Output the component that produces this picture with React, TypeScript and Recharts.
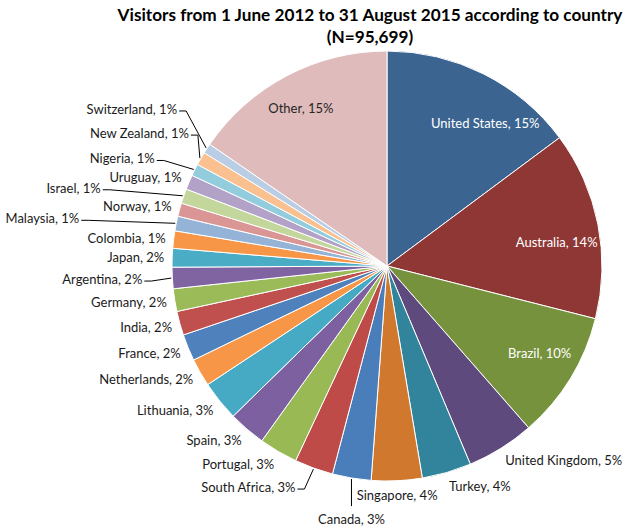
import { PieChart, Pie, Cell } from "recharts";

const countries = [
  "United States", "Australia", "Brazil", "United Kingdom", "Turkey", "Singapore",
  "Canada", "South Africa", "Portugal", "Spain", "Lithuania", "Netherlands",
  "France", "India", "Germany", "Argentina", "Japan", "Colombia", "Malaysia",
  "Norway", "Israel", "Uruguay", "Nigeria", "New Zealand", "Switzerland", "Other",
];

// share of visitors (%)
const shares = [
  14.8, 14.1, 9.6, 5.1, 3.7, 3.8, 2.9, 2.9, 2.9, 2.8, 3.0, 2.1, 2.0, 1.8, 1.7,
  1.6, 1.4, 1.3, 1.1, 1.0, 1.1, 1.1, 0.9, 1.0, 0.75, 15.4,
];

// percentages as printed on the labels
const shareLabels = [
  "15%", "14%", "10%", "5%", "4%", "4%", "3%", "3%", "3%", "3%", "3%", "2%",
  "2%", "2%", "2%", "2%", "2%", "1%", "1%", "1%", "1%", "1%", "1%", "1%", "1%", "15%",
];

const colors = [
  "#3B6491", "#8E3735", "#76923C", "#5E4A7D", "#31849B", "#D0782E",
  "#4A7EBB", "#BE4B48", "#98B954", "#7D60A0", "#46AAC5", "#F79646",
  "#4F81BD", "#C0504D", "#9BBB59", "#8064A2", "#4BACC6", "#F79646",
  "#95B3D7", "#D99694", "#C3D69B", "#B3A2C7", "#93CDDD", "#FAC090",
  "#B9CDE5", "#DFBBBB",
];

const data = countries.map((name, i) => ({ name, value: shares[i] }));

// labels drawn inside the slice: colour and a small nudge from the default spot
const INSIDE: Record<string, { fill: string; dx: number; dy: number }> = {
  "United States": { fill: "#ffffff", dx: 21, dy: 11 },
  Australia: { fill: "#ffffff", dx: 1, dy: 9 },
  Brazil: { fill: "#ffffff", dx: 6, dy: -3 },
  Other: { fill: "#262626", dx: -6, dy: -6 },
};

// leader line offsets, relative to the slice's edge point
const LEADERS: Record<string, { dx: number; dy: number; vertical?: boolean }> = {
  Switzerland: { dx: -27, dy: -37 },
  "New Zealand": { dx: -9, dy: -23 },
  Nigeria: { dx: -37, dy: -9 },
  Israel: { dx: -80, dy: -6 },
  Malaysia: { dx: -94, dy: -3 },
  Argentina: { dx: -27, dy: 3 },
  "South Africa": { dx: -16, dy: 20 },
  Canada: { dx: 0, dy: 27, vertical: true },
};

const FONT = "Lato, 'Open Sans', sans-serif";
const RAD = Math.PI / 180;

function renderLabel(props: any) {
  const { cx, cy, midAngle, outerRadius, index } = props;
  const name = countries[index];
  const text = `${name}, ${shareLabels[index]}`;
  const cos = Math.cos(-midAngle * RAD);
  const sin = Math.sin(-midAngle * RAD);

  const inside = INSIDE[name];
  if (inside) {
    const r = outerRadius * 0.8;
    return (
      <text
        key={`lbl-${index}`}
        x={cx + r * cos + inside.dx}
        y={cy + r * sin + inside.dy}
        textAnchor="middle"
        dominantBaseline="central"
        fill={inside.fill}
        fontSize={13}
        fontFamily={FONT}
      >
        {text}
      </text>
    );
  }

  const leader = LEADERS[name];
  if (leader) {
    const ex = cx + (outerRadius + 1) * cos;
    const ey = cy + (outerRadius + 1) * sin;
    const lx = ex + leader.dx;
    const ly = ey + leader.dy;
    if (leader.vertical) {
      return (
        <g key={`lbl-${index}`}>
          <line x1={ex} y1={ey} x2={lx} y2={ly} stroke="#000" strokeWidth={1} />
          <text
            x={lx}
            y={ly + 13}
            textAnchor="middle"
            dominantBaseline="central"
            fill="#1a1a1a"
            fontSize={13}
            fontFamily={FONT}
          >
            {text}
          </text>
        </g>
      );
    }
    const bx = lx + 7;
    return (
      <g key={`lbl-${index}`}>
        <polyline
          points={`${ex},${ey} ${bx},${ly} ${lx},${ly}`}
          fill="none"
          stroke="#000"
          strokeWidth={1}
        />
        <text
          x={lx - 2}
          y={ly - 2}
          textAnchor="end"
          dominantBaseline="central"
          fill="#1a1a1a"
          fontSize={13}
          fontFamily={FONT}
        >
          {text}
        </text>
      </g>
    );
  }

  const r = outerRadius + 8;
  const px = cx + r * cos;
  const py = cy + r * sin;
  const anchor = Math.abs(cos) < 0.15 ? "middle" : cos > 0 ? "start" : "end";
  return (
    <text
      key={`lbl-${index}`}
      x={px}
      y={py + sin * 6}
      textAnchor={anchor}
      dominantBaseline="central"
      fill="#1a1a1a"
      fontSize={13}
      fontFamily={FONT}
    >
      {text}
    </text>
  );
}

export default function App() {
  return (
    <div
      style={{
        position: "absolute",
        left: 0,
        top: 0,
        width: 630,
        height: 527,
        background: "#fff",
      }}
    >
      <div
        style={{
          position: "absolute",
          left: 110,
          top: 4,
          width: 520,
          textAlign: "center",
          fontFamily: FONT,
          fontWeight: 700,
          fontSize: 17.2,
          lineHeight: "22px",
          color: "#000",
        }}
      >
        Visitors from 1 June 2012 to 31 August 2015 according to country
        <br />
        (N=95,699)
      </div>
      <PieChart width={630} height={527} margin={{ top: 0, right: 0, bottom: 0, left: 0 }}>
        <Pie
          data={data}
          dataKey="value"
          nameKey="name"
          cx={387}
          cy={266}
          outerRadius={215}
          startAngle={90}
          endAngle={-270}
          stroke="#ffffff"
          strokeWidth={1}
          label={renderLabel}
          labelLine={false}
          isAnimationActive={false}
        >
          {data.map((d, i) => (
            <Cell key={d.name} fill={colors[i]} />
          ))}
        </Pie>
      </PieChart>
    </div>
  );
}
